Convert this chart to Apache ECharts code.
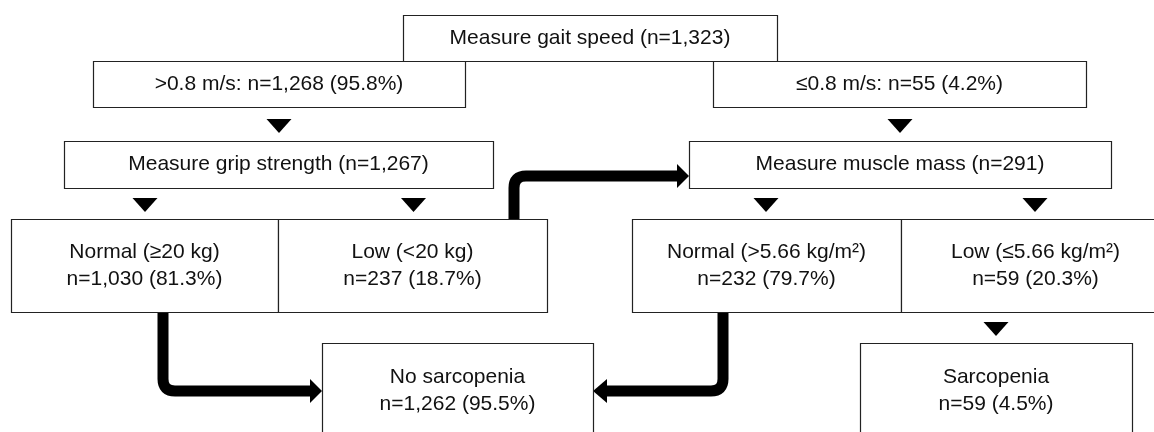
<!DOCTYPE html>
<html>
<head>
<meta charset="utf-8">
<script src="https://cdn.jsdelivr.net/npm/echarts@6/dist/echarts.min.js"></script>
<style>
html,body{margin:0;padding:0;background:#fff;}
#chart{width:1154px;height:432px;}
</style>
</head>
<body>
<div id="chart"></div>
<script>
// ---- content ----
const boxLabels = [
  'Measure gait speed (n=1,323)',
  '>0.8 m/s: n=1,268 (95.8%)',
  '\u22640.8 m/s: n=55 (4.2%)',
  'Measure grip strength (n=1,267)',
  'Measure muscle mass (n=291)',
  'Normal (\u226520 kg)\nn=1,030 (81.3%)',
  'Low (<20 kg)\nn=237 (18.7%)',
  'Normal (>5.66 kg/m\u00b2)\nn=232 (79.7%)',
  'Low (\u22645.66 kg/m\u00b2)\nn=59 (20.3%)',
  'No sarcopenia\nn=1,262 (95.5%)',
  'Sarcopenia\nn=59 (4.5%)'
];
// ---- layout (diagram coordinates) ----
const boxLayout = [
  [403, 15, 777, 61],
  [93, 61, 465, 107],
  [713, 61, 1086, 107],
  [64, 141, 493, 188],
  [689, 141, 1111, 188],
  [11, 219, 278, 312],
  [278, 219, 547, 312],
  [632, 219, 901, 312],
  [901, 219, 1170, 312],
  [322, 343, 593, 438],
  [860, 343, 1132, 438]
];
const downArrows = [
  [279, 119], [900, 119],
  [145, 198], [413.5, 198], [766, 198], [1035, 198],
  [996, 322]
];
const connectors = [
  [[163, 312], [163, 391], [310, 391], [322, 391]],
  [[723, 312], [723, 391], [607, 391], [593, 391]],
  [[514, 219], [514, 176], [677, 176], [689, 176]]
];

const FONT = '"Liberation Sans", Arial, Helvetica, sans-serif';

const chart = echarts.init(document.getElementById('chart'), null, {renderer: 'canvas'});

function boxRender(params, api) {
  const i = params.dataIndex;
  const p1 = api.coord([api.value(0), api.value(1)]);
  const p2 = api.coord([api.value(2), api.value(3)]);
  return {
    type: 'group',
    children: [
      {
        type: 'rect',
        shape: {x: p1[0] + 0.5, y: p1[1] + 0.5, width: p2[0] - p1[0], height: p2[1] - p1[1]},
        style: {fill: '#fff', stroke: '#222', lineWidth: 1.2}
      },
      {
        type: 'text',
        x: (p1[0] + p2[0]) / 2,
        y: (p1[1] + p2[1]) / 2,
        style: {
          text: boxLabels[i],
          fill: '#111',
          font: '21px ' + FONT,
          align: 'center',
          verticalAlign: 'middle',
          lineHeight: 27
        }
      }
    ]
  };
}

function triRender(params, api) {
  const c = api.coord([api.value(0), api.value(1)]);
  const b = api.coord([api.value(0) + 12.5, api.value(1) + 14]);
  const hw = b[0] - c[0], h = b[1] - c[1];
  return {
    type: 'polygon',
    shape: {points: [[c[0] - hw, c[1]], [c[0] + hw, c[1]], [c[0], c[1] + h]]},
    style: {fill: '#000'}
  };
}

function connRender(params, api) {
  const pts = connectors[params.dataIndex].map(p => api.coord(p));
  const r = 12;
  const [a, b, c, tip] = pts;
  const d1 = [Math.sign(b[0] - a[0]), Math.sign(b[1] - a[1])];
  const d2 = [Math.sign(c[0] - b[0]), Math.sign(c[1] - b[1])];
  const s = [b[0] - d1[0] * r, b[1] - d1[1] * r];
  const e = [b[0] + d2[0] * r, b[1] + d2[1] * r];
  const path = 'M' + a[0] + ' ' + a[1] +
    ' L' + s[0] + ' ' + s[1] +
    ' Q' + b[0] + ' ' + b[1] + ' ' + e[0] + ' ' + e[1] +
    ' L' + c[0] + ' ' + c[1];
  const hh = 12;
  const perp = [-d2[1], d2[0]];
  return {
    type: 'group',
    children: [
      {
        type: 'path',
        shape: {pathData: path},
        style: {fill: 'none', stroke: '#000', lineWidth: 11, lineCap: 'butt', lineJoin: 'round'}
      },
      {
        type: 'polygon',
        shape: {points: [
          [c[0] + perp[0] * hh, c[1] + perp[1] * hh],
          [c[0] - perp[0] * hh, c[1] - perp[1] * hh],
          [tip[0], tip[1]]
        ]},
        style: {fill: '#000'}
      }
    ]
  };
}

chart.setOption({
  animation: false,
  backgroundColor: '#fff',
  grid: {left: 0, right: 0, top: 0, bottom: 0},
  xAxis: {type: 'value', min: 0, max: 1154, show: false},
  yAxis: {type: 'value', min: 0, max: 432, inverse: true, show: false},
  series: [
    {type: 'custom', renderItem: connRender, data: connectors.map((c, i) => [c[0][0], c[0][1]]), z: 1, silent: true},
    {type: 'custom', renderItem: boxRender, data: boxLayout, z: 2, silent: true},
    {type: 'custom', renderItem: triRender, data: downArrows, z: 3, silent: true}
  ]
});
</script>
</body>
</html>
